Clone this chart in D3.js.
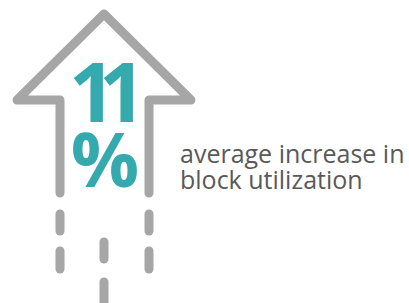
<!DOCTYPE html>
<html>
<head>
<meta charset="utf-8">
<script src="https://cdn.jsdelivr.net/npm/d3@7"></script>
<style>
  body { margin: 0; background: #fff; }
</style>
</head>
<body>
<div id="chart"></div>
<script>
var value = '11'
var unit = '%'
var labelLines = ['average increase in', 'block utilization']

// arrow outline (in local units) and the dashed trails under it
var arrowPoints = [[60, 193], [60, 100], [17, 100], [104, 14], [191, 100], [149, 100], [149, 193]]
var trailX = ['left', 'mid', 'right']
var dashes = [
  { lane: 'left', y0: 214, y1: 231 },
  { lane: 'left', y0: 251, y1: 269 },
  { lane: 'right', y0: 214, y1: 231 },
  { lane: 'right', y0: 251, y1: 269 },
  { lane: 'mid', y0: 242, y1: 259 },
  { lane: 'mid', y0: 282, y1: 310 }
]

var gray = '#a6a6a6'
var teal = '#34a9ae'

var width = 409
var height = 303

var svg = d3.select('#chart')
  .append('svg')
  .attr('width', width)
  .attr('height', height)

var x = d3.scaleIdentity().domain([0, width])
var y = d3.scaleIdentity().domain([0, height])
var lane = d3.scaleOrdinal().domain(trailX).range([60, 104, 149])

var line = d3.line().x(d => x(d[0])).y(d => y(d[1]))

svg.append('path')
  .attr('d', line(arrowPoints))
  .attr('fill', 'none')
  .attr('stroke', gray)
  .attr('stroke-width', 9)
  .attr('stroke-linejoin', 'round')
  .attr('stroke-linecap', 'round')

svg.selectAll('.dash')
  .data(dashes)
  .enter().append('line')
  .attr('class', 'dash')
  .attr('x1', d => lane(d.lane))
  .attr('x2', d => lane(d.lane))
  .attr('y1', d => y(d.y0))
  .attr('y2', d => y(d.y1))
  .attr('stroke', gray)
  .attr('stroke-width', 9)
  .attr('stroke-linecap', 'round')

// big number and its unit, one text block
var big = svg.append('text')
  .attr('font-family', 'Open Sans')
  .attr('font-weight', 700)
  .attr('fill', teal)

big.append('tspan')
  .attr('x', 99)
  .attr('y', 122)
  .attr('text-anchor', 'middle')
  .attr('font-size', 82)
  .attr('letter-spacing', -17)
  .text(value)

big.append('tspan')
  .attr('x', 105)
  .attr('y', 187)
  .attr('text-anchor', 'middle')
  .attr('font-size', 76)
  .text(unit)

var label = svg.append('text')
  .attr('font-family', 'Open Sans')
  .attr('font-size', 25)
  .attr('fill', '#595959')

label.selectAll('tspan')
  .data(labelLines)
  .enter().append('tspan')
  .attr('x', 180)
  .attr('y', (d, i) => 163 + i * 26)
  .text(d => d)
</script>
</body>
</html>
